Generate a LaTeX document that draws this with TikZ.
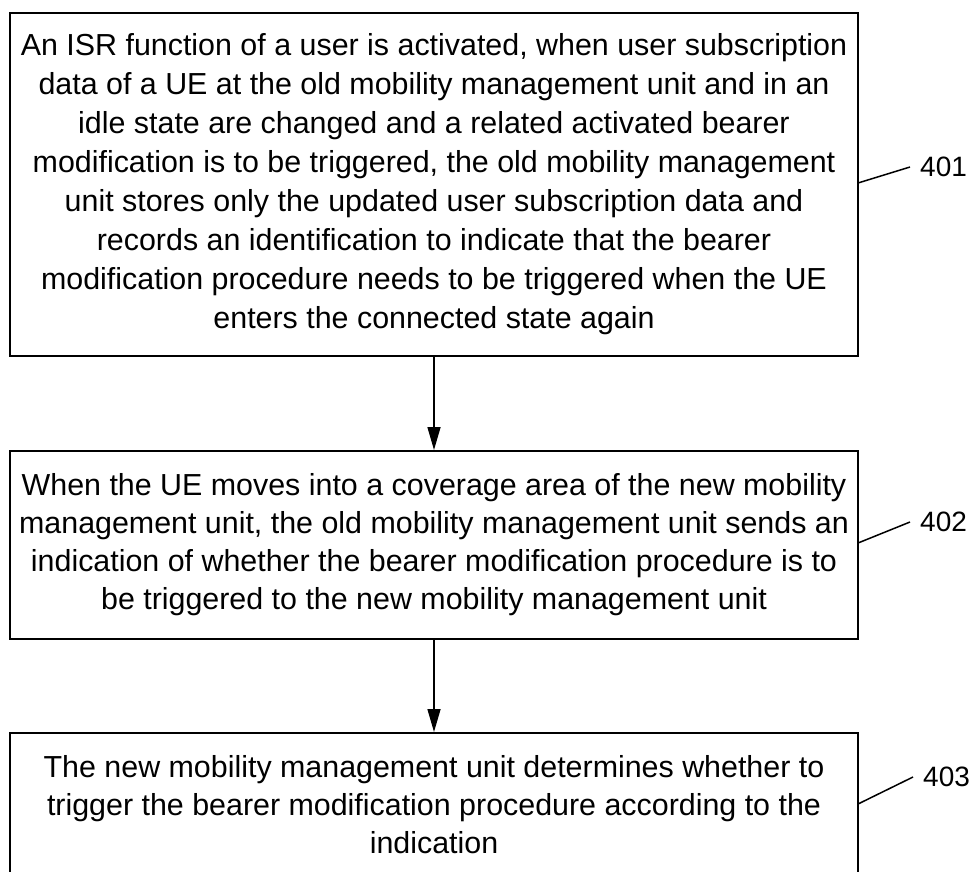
\documentclass[tikz,border=0pt]{standalone}
\usepackage{fontspec}
\setmainfont{Liberation Sans}
\usetikzlibrary{arrows.meta}
\begin{document}
\begin{tikzpicture}[x=1pt,y=-1pt,
  stepbox/.style={draw=black, line width=2pt, inner sep=0pt, align=center, minimum width=848pt},
  flow/.style={line width=1.5pt, -{Triangle[length=23pt,width=13pt]}},
  lbl/.style={anchor=west, inner xsep=10pt, inner ysep=0pt, font=\fontsize{28}{32}\selectfont},
  leader/.style={line width=1.5pt}]
\useasboundingbox (0,0) rectangle (976,871);
\clip (0,0) rectangle (976,871);
\node[stepbox, minimum height=343pt, font=\fontsize{30.4}{39}\selectfont] (b1) at (434,184.5)
 {An ISR function of a user is activated, when user subscription\\
  data of a UE at the old mobility management unit and in an\\
  idle state are changed and a related activated bearer\\
  modification is to be triggered, the old mobility management\\
  unit stores only the updated user subscription data and\\
  records an identification to indicate that the bearer\\
  modification procedure needs to be triggered when the UE\\
  enters the connected state again};
\node[stepbox, minimum height=188pt, font=\fontsize{30.4}{38}\selectfont] (b2) at (434,545)
 {When the UE moves into a coverage area of the new mobility\\
  management unit, the old mobility management unit sends an\\
  indication of whether the bearer modification procedure is to\\
  be triggered to the new mobility management unit};
\node[stepbox, minimum height=144pt, font=\fontsize{30.4}{38}\selectfont] (b3) at (434,805)
 {The new mobility management unit determines whether to\\
  trigger the bearer modification procedure according to the\\
  indication};
\draw[flow] (b1.south) -- (b2.north);
\draw[flow] (b2.south) -- (b3.north);
\node[lbl] (l1) at (910,167) {401};
\node[lbl] (l2) at (910,522) {402};
\node[lbl] (l3) at (913,777) {403};
\coordinate (c1) at (858,183);
\coordinate (c2) at (858,543);
\coordinate (c3) at (858,804);
\draw[leader] (c1) -- (l1.west);
\draw[leader] (c2) -- (l2.west);
\draw[leader] (c3) -- (l3.west);
\end{tikzpicture}
\end{document}
